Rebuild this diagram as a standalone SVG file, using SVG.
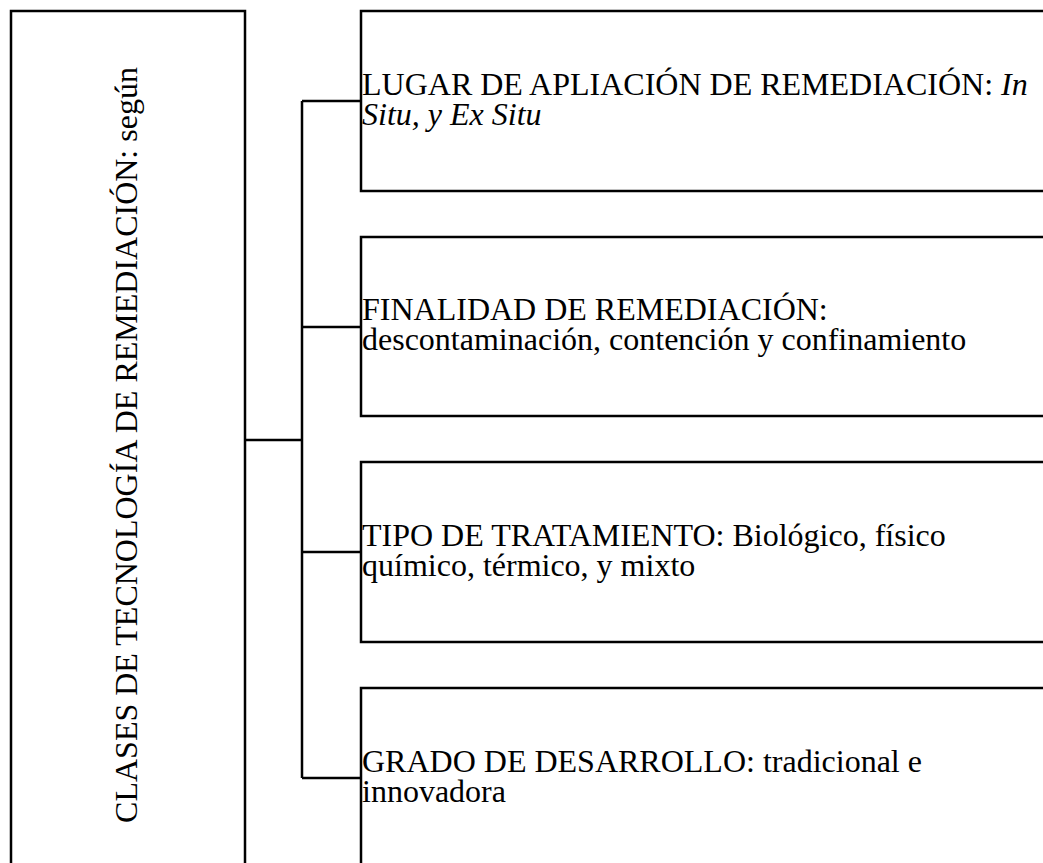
<svg xmlns="http://www.w3.org/2000/svg" width="1043" height="863" viewBox="0 0 1043 863">
<style>
.box{fill:#fff;stroke:#000;stroke-width:2.5}
.ln{fill:none;stroke:#000;stroke-width:2.5}
.t{font-family:"Liberation Serif","Times New Roman",serif;font-size:32px;fill:#000}
.i{font-style:italic}
</style>
<rect width="1043" height="863" fill="#fff"/>
<g id="connectors">
<path class="ln" d="M245,440 H302 M302,101 V778 M302,101 H361 M302,327 H361 M302,552 H361 M302,778 H361"/>
</g>
<g id="root">
<rect class="box" x="11" y="11" width="234" height="880"/>
<text class="t" transform="translate(137,445) rotate(-90)" text-anchor="middle">CLASES DE TECNOLOGÍA DE REMEDIACIÓN: según</text>
</g>
<g id="n1">
<rect class="box" x="361" y="11" width="720" height="180"/>
<text class="t" x="362" y="95">LUGAR DE APLIACIÓN DE REMEDIACIÓN: <tspan class="i">In</tspan></text>
<text class="t i" x="362" y="125">Situ, y Ex Situ</text>
</g>
<g id="n2">
<rect class="box" x="361" y="237" width="720" height="179"/>
<text class="t" x="362" y="320">FINALIDAD DE REMEDIACIÓN:</text>
<text class="t" x="362" y="350">descontaminación, contención y confinamiento</text>
</g>
<g id="n3">
<rect class="box" x="361" y="462" width="720" height="180"/>
<text class="t" x="362" y="546">TIPO DE TRATAMIENTO: Biológico, físico</text>
<text class="t" x="362" y="576">químico, térmico, y mixto</text>
</g>
<g id="n4">
<rect class="box" x="361" y="688" width="720" height="200"/>
<text class="t" x="362" y="772">GRADO DE DESARROLLO: tradicional e</text>
<text class="t" x="362" y="802">innovadora</text>
</g>
</svg>
